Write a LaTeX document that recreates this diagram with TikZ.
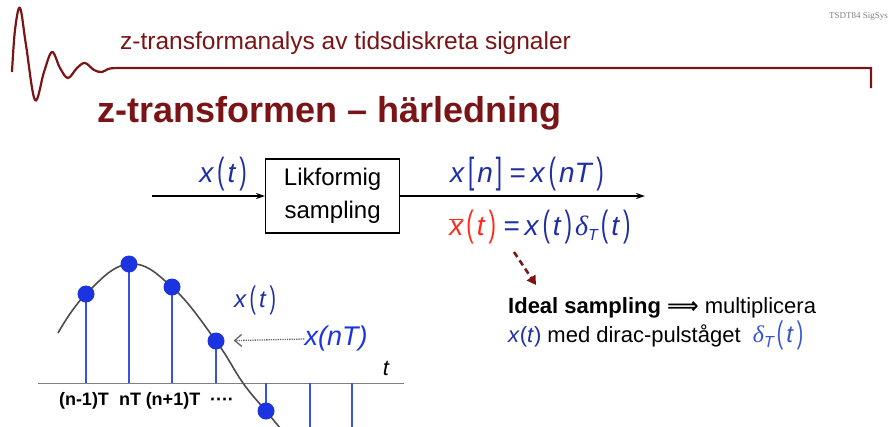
\documentclass[tikz,border=0pt]{standalone}
\usepackage{fontspec}
\setmainfont{Liberation Sans}
\newfontfamily\timesfont{Liberation Serif}
\newfontfamily\arrowfont{DejaVu Sans}
\usepackage{xcolor}
\usepackage{tikz}
\usetikzlibrary{positioning, arrows.meta}

\definecolor{headred}{HTML}{7A1416}
\definecolor{sigblue}{HTML}{1E2EA6}
\definecolor{lightblue}{HTML}{3552D6}
\definecolor{stemblue}{HTML}{3A52E0}
\definecolor{dotblue}{HTML}{1C34E0}
\definecolor{barred}{HTML}{FF2B1C}

\newcommand{\lp}{\hspace{3pt}\raisebox{-1pt}{\scalebox{0.8}[1.3]{(}}\hspace{3pt}}
\newcommand{\rp}{\hspace{3pt}\raisebox{-1pt}{\scalebox{0.8}[1.3]{)}}\hspace{3pt}}
\newcommand{\lb}{\hspace{3pt}\raisebox{-1pt}{\scalebox{0.8}[1.3]{[}}\hspace{3pt}}
\newcommand{\rb}{\hspace{3pt}\raisebox{-1pt}{\scalebox{0.8}[1.3]{]}}\hspace{3pt}}
\newcommand{\iv}[1]{\textit{#1}}
\newcommand{\dT}{{\timesfont\itshape δ}\raisebox{-5pt}{\fontsize{16}{16}\selectfont\itshape T}}

\begin{document}
\begin{tikzpicture}[x=1pt, y=-1pt,
    block/.style={draw, line width=1.3pt, minimum width=134pt, minimum height=74pt,
      inner sep=0pt, align=center, font=\fontsize{24}{33}\selectfont},
    sig/.style={inner sep=0pt, text=sigblue, font=\fontsize{28}{30}\selectfont},
    flow/.style={line width=1.3pt, -{Stealth[length=9pt, width=6pt, inset=3pt]}},
    tick/.style={inner sep=0pt, anchor=base, font=\bfseries\fontsize{18}{20}\selectfont},
    stem/.style={stemblue, line width=1.6pt},
    sample/.style={circle, fill=dotblue, minimum size=17pt, inner sep=0pt}]

    \useasboundingbox (0,0) rectangle (890,426);

    \draw[headred, line width=2.2pt] plot[smooth, tension=0.6] coordinates {(12,72) (15,30) (20,8) (26,45)
        (35,100) (44,72) (52,52) (60,68) (68,78) (77,68) (85,63) (94,70) (102,72) (110,68.5) (125,68)}
        -- (871,68) -- (871,88);
    \node[text=headred, anchor=base west, inner sep=0pt, font=\fontsize{24.5}{28}\selectfont]
        (subtitle) at (120,49) {z-transformanalys av tidsdiskreta signaler};
    \node[text=gray, anchor=east, inner sep=0pt, font=\timesfont\fontsize{9}{10}\selectfont]
        (course) at (888,16) {TSDT84 SigSys};
    \node[text=headred, anchor=base west, inner sep=0pt, font=\bfseries\fontsize{36}{40}\selectfont]
        (title) at (97,122) {z-transformen – härledning};

    \coordinate (in) at (152,196);
    \node[block, right=113pt of in] (sampler) {Likformig\\sampling};
    \coordinate (out) at (645,196);
    \draw[flow] (in) -- (sampler);
    \draw[flow] (sampler) -- (out);

    \node[sig] (xin) at (223,174) {\iv{x}\lp\iv{t}\rp};
    \node[sig] (xn) at (527,174) {\iv{x}\lb\iv{n}\rb\,=\,\iv{x}\lp\iv{nT}\rp};
    \node[sig] (xbar) at (540,227) {\textcolor{barred}{$\overline{\mbox{\itshape x}}$\lp\iv{t}\rp}\,=\,\iv{x}\lp\iv{t}\rp\dT\lp\iv{t}\rp};

    \node[anchor=base west, inner sep=0pt, font=\fontsize{22}{26}\selectfont]
        (note) at (508,313) {\textbf{Ideal sampling} {\arrowfont\bfseries ⟹} multiplicera};
    \node[anchor=base west, inner sep=0pt, font=\fontsize{22}{26}\selectfont]
        (note2) at (508,342) {\textcolor{sigblue}{\iv{x}(\iv{t})} med dirac-pulståget\ \ \textcolor{lightblue}{\fontsize{24}{26}\selectfont\dT\lp\iv{t}\rp}};
    \coordinate (hint) at (514,252);
    \coordinate (hintend) at (536,285);
    \draw[headred, dash pattern=on 6pt off 4pt, line width=2.6pt, -{Triangle[length=9pt, width=10pt]}] (hint) -- (hintend);

    \begin{scope}
        \clip (0,0) rectangle (890,426);
        \coordinate (axl) at (38,383);
        \coordinate (axr) at (404,383);
        \draw[gray, line width=1pt] (axl) -- (axr);
        \draw[black!70, line width=1.6pt] plot[smooth, tension=0.7] coordinates {(58,333) (86,294) (129,264)
            (172,287) (216,341) (243,383) (266,411) (285,434)};
        \foreach \k/\xs/\ys in {1/86/294, 2/129/264, 3/172/287, 4/216/341, 5/266/411} {
            \draw[stem] (\xs,383) -- (\xs,\ys);
            \node[sample] (s\k) at (\xs,\ys) {};
        }
        \foreach \xs in {310, 352} {
            \draw[stem] (\xs,383) -- (\xs,430);
        }
    \end{scope}

    \node[inner sep=0pt, font=\itshape\fontsize{22}{24}\selectfont] (tlab) at (386,368) {t};
    \node[tick] (l1) at (84,405) {(n-1)T};
    \node[tick] (l2) at (130,405) {nT};
    \node[tick] (l3) at (173,405) {(n+1)T};
    \node[tick] (l4) at (222,405) {····};

    \node[sig, font=\fontsize{24}{28}\selectfont] (xcurve) at (255,300) {\iv{x}\lp\iv{t}\rp};
    \node[inner sep=0pt, text=dotblue, font=\itshape\fontsize{27}{30}\selectfont] (xnT) at (336,339) {x(nT)};
    \draw[black!60, densely dotted, line width=1.3pt, shorten >=9pt, -{Straight Barb[length=7pt, width=12pt]}] (xnT.west) -- (s4);
\end{tikzpicture}
\end{document}
